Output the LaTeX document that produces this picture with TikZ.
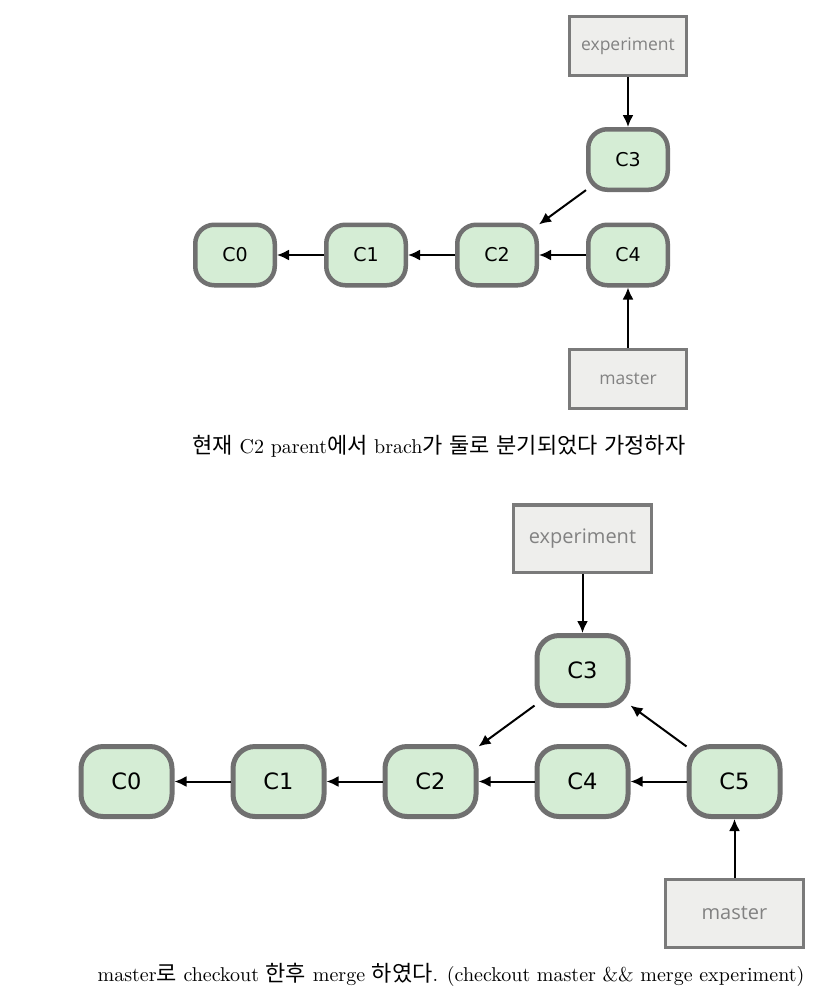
\documentclass[tikz,border=0pt]{standalone}
\usepackage{fontspec}
\usepackage{xcolor}
\usepackage{tikz}
\usetikzlibrary{
	positioning,       %relative placement
	arrows.meta        %arrow tips
}
\newfontfamily\krfont[Scale=1.1]{Noto Sans CJK KR}
\newfontfamily\capfont{lmroman10-regular.otf}
\newfontfamily\commitfont{DejaVu Sans}
\newfontfamily\reffont{Open Sans}
\definecolor{commitfill}{RGB}{213,237,213}
\definecolor{commitline}{RGB}{112,112,112}
\definecolor{reffill}{RGB}{238,238,236}
\definecolor{refline}{RGB}{122,122,122}
\definecolor{reftext}{RGB}{130,130,130}
\tikzset{
	every picture/.style={
		>=latex,
		node distance=47pt
}}

\begin{document}
\begin{tikzpicture}[x=1pt,y=-1pt]
\tikzstyle{commit}=[rectangle, rounded corners=19pt, draw=commitline, fill=commitfill, line width=4.5pt, minimum width=79.5pt, minimum height=60.5pt, inner sep=0pt, font=\commitfont\fontsize{19}{19}\selectfont]
\tikzstyle{branch}=[rectangle, draw=refline, fill=reffill, line width=3pt, minimum width=117pt, minimum height=59pt, inner sep=0pt, text=reftext, font=\reffont\fontsize{17.5}{17.5}\selectfont]
\tikzstyle{connect}=[-{Latex[length=12pt,width=11pt]}, line width=2pt]
\tikzstyle{caption}=[inner sep=0pt, font=\capfont\fontsize{20}{20}\selectfont]
\useasboundingbox[fill=white] (0,0) rectangle (824,1005);
% before the merge
\node[commit] (c4) at (628,255) {C4};
\node[commit] (c2) [left=of c4] {C2};
\node[commit] (c1) [left=of c2] {C1};
\node[commit] (c0) [left=of c1] {C0};
\node[commit] (c3) [above=30.5pt of c4] {C3};
\node[branch] (exp) [above=50pt of c3] {experiment};
\node[branch] (mst) [below=60pt of c4] {master};
\path (exp) edge [connect] (c3)
(c3) edge [connect] (c2)
(c4) edge [connect] (c2)
(c2) edge [connect] (c1)
(c1) edge [connect] (c0)
(mst) edge [connect] (c4);
\node[caption] (cap1) at (439,446) {{\krfont 현재} C2 parent{\krfont 에서} brach{\krfont 가} {\krfont 둘로} {\krfont 분기되었다} {\krfont 가정하자}};
% after the merge
\begin{scope}[node distance=56pt,
commit/.append style={rounded corners=22pt, line width=5pt, minimum width=91pt, minimum height=70pt, font=\commitfont\fontsize{22.5}{22.5}\selectfont},
branch/.append style={line width=3.4pt, minimum width=137.5pt, minimum height=67.5pt, font=\reffont\fontsize{20}{20}\selectfont}]
\node[commit] (m4) at (582.5,781.5) {C4};
\node[commit] (m5) [right=of m4] {C5};
\node[commit] (m2) [left=of m4] {C2};
\node[commit] (m1) [left=of m2] {C1};
\node[commit] (m0) [left=of m1] {C0};
\node[commit] (m3) [above=36pt of m4] {C3};
\node[branch] (mexp) [above=59pt of m3] {experiment};
\node[branch] (mmst) [below=59pt of m5] {master};
\path (mexp) edge [connect] (m3)
(m3) edge [connect] (m2)
(m5) edge [connect] (m3)
(m5) edge [connect] (m4)
(m4) edge [connect] (m2)
(m2) edge [connect] (m1)
(m1) edge [connect] (m0)
(mmst) edge [connect] (m5);
\end{scope}
\node[caption] (cap2) at (451,975) {master{\krfont 로} checkout {\krfont 한후} merge {\krfont 하였다}. (checkout master \&\& merge experiment)};
\end{tikzpicture}
\end{document}
